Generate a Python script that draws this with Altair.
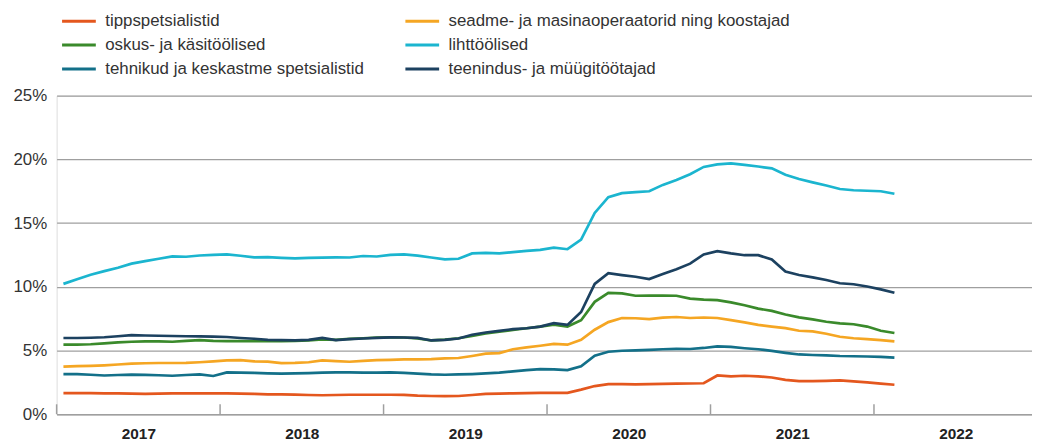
import altair as alt
import pandas as pd

# ---- data (registered unemployment share by occupation group, %) ----
months = pd.period_range("2017-01", "2022-02", freq="M").strftime("%Y-%m").tolist()
years = [2017, 2018, 2019, 2020, 2021, 2022]

series_names = [
    "tippspetsialistid",
    "seadme- ja masinaoperaatorid ning koostajad",
    "oskus- ja käsitöölised",
    "lihttöölised",
    "tehnikud ja keskastme spetsialistid",
    "teenindus- ja müügitöötajad",
]
colors = ["#e4571e", "#f5a623", "#3a8a2b", "#1bb5cf", "#137089", "#1c4160"]

tipp = [1.65, 1.65, 1.65, 1.63, 1.64, 1.62, 1.59, 1.62, 1.63, 1.64, 1.64, 1.64,
        1.63, 1.61, 1.59, 1.56, 1.55, 1.54, 1.51, 1.49, 1.51, 1.53, 1.53, 1.53,
        1.53, 1.52, 1.46, 1.43, 1.42, 1.43, 1.51, 1.59, 1.62, 1.64, 1.66, 1.68,
        1.68, 1.68, 1.93, 2.21, 2.36, 2.36, 2.34, 2.36, 2.38, 2.40, 2.41, 2.43,
        3.04, 2.97, 3.02, 2.97, 2.88, 2.70, 2.60, 2.60, 2.62, 2.66, 2.58, 2.50,
        2.40, 2.31]
seadme = [3.73, 3.77, 3.80, 3.84, 3.90, 3.97, 4.00, 4.02, 4.02, 4.03, 4.08, 4.15,
          4.23, 4.25, 4.15, 4.13, 4.01, 4.03, 4.08, 4.23, 4.17, 4.12, 4.19, 4.25,
          4.27, 4.30, 4.30, 4.32, 4.38, 4.41, 4.57, 4.75, 4.80, 5.10, 5.24, 5.37,
          5.52, 5.46, 5.84, 6.63, 7.23, 7.55, 7.53, 7.47, 7.58, 7.63, 7.55, 7.59,
          7.55, 7.39, 7.21, 7.01, 6.88, 6.76, 6.55, 6.50, 6.32, 6.08, 5.96, 5.90,
          5.81, 5.72]
oskus = [5.46, 5.46, 5.49, 5.56, 5.64, 5.69, 5.72, 5.72, 5.69, 5.76, 5.82, 5.76,
         5.74, 5.74, 5.74, 5.74, 5.74, 5.76, 5.79, 5.87, 5.84, 5.92, 5.96, 6.02,
         6.04, 6.02, 5.94, 5.79, 5.86, 5.96, 6.14, 6.34, 6.48, 6.61, 6.75, 6.88,
         7.03, 6.88, 7.38, 8.82, 9.53, 9.48, 9.30, 9.32, 9.31, 9.30, 9.07, 8.99,
         8.95, 8.78, 8.55, 8.29, 8.11, 7.83, 7.60, 7.44, 7.26, 7.13, 7.06, 6.88,
         6.55, 6.37]
lihtt = [10.23, 10.60, 10.95, 11.23, 11.50, 11.82, 12.02, 12.20, 12.39, 12.36, 12.46, 12.51,
         12.54, 12.44, 12.31, 12.33, 12.27, 12.23, 12.27, 12.29, 12.31, 12.30, 12.42, 12.38,
         12.50, 12.55, 12.45, 12.30, 12.15, 12.20, 12.62, 12.66, 12.62, 12.72, 12.82, 12.90,
         13.08, 12.95, 13.70, 15.80, 17.04, 17.35, 17.43, 17.50, 18.00, 18.38, 18.84, 19.41,
         19.61, 19.69, 19.57, 19.44, 19.30, 18.80, 18.46, 18.20, 17.95, 17.68, 17.58, 17.54,
         17.50, 17.30]
tehnikud = [3.15, 3.14, 3.10, 3.04, 3.08, 3.11, 3.09, 3.06, 3.02, 3.08, 3.12, 3.00,
            3.28, 3.26, 3.24, 3.20, 3.18, 3.20, 3.23, 3.26, 3.28, 3.28, 3.26, 3.27,
            3.28, 3.24, 3.18, 3.12, 3.10, 3.12, 3.15, 3.20, 3.26, 3.36, 3.46, 3.54,
            3.52, 3.46, 3.76, 4.60, 4.90, 4.98, 5.01, 5.05, 5.10, 5.13, 5.12, 5.20,
            5.33, 5.28, 5.18, 5.10, 4.97, 4.82, 4.69, 4.65, 4.62, 4.57, 4.55, 4.53,
            4.50, 4.44]
teenindus = [5.98, 5.98, 6.00, 6.04, 6.12, 6.21, 6.18, 6.16, 6.14, 6.12, 6.11, 6.09,
             6.06, 5.98, 5.92, 5.84, 5.81, 5.79, 5.84, 5.99, 5.82, 5.89, 5.94, 5.99,
             6.03, 6.02, 5.99, 5.79, 5.84, 5.94, 6.24, 6.41, 6.54, 6.68, 6.75, 6.88,
             7.15, 7.01, 8.02, 10.23, 11.07, 10.92, 10.79, 10.61, 11.00, 11.38, 11.82, 12.54,
             12.80, 12.62, 12.48, 12.48, 12.15, 11.20, 10.93, 10.74, 10.53, 10.28, 10.20, 10.02,
             9.80, 9.53]

y_ticks = [0, 5, 10, 15, 20, 25]

# ---- build long table ----
rows = []
for name, vals in zip(series_names, [tipp, seadme, oskus, lihtt, tehnikud, teenindus]):
    for m, v in zip(months, vals):
        yy, mm = int(m[:4]), int(m[5:])
        rows.append({"series": name, "month": m,
                     "t": (yy - years[0]) * 12 + (mm - 1) + 0.5, "value": v})
df = pd.DataFrame(rows)

year_starts = pd.DataFrame({"t": [(y - years[0]) * 12 for y in years]})
year_mids = [(y - years[0]) * 12 + 6 for y in years]

W, H = 983, 321
FONT = "Liberation Sans"
GRID = "#9f9f9f"

x_scale = alt.Scale(domain=[0, 71.6], nice=False, zero=False)
y_scale = alt.Scale(domain=[0, 25], nice=False)

lines = alt.Chart(df).mark_line(strokeWidth=2.7).encode(
    x=alt.X("t:Q", scale=x_scale,
            axis=alt.Axis(values=year_mids,
                          labelExpr="'' + (%d + (datum.value - 6) / 12)" % years[0],
                          ticks=False, grid=False, domain=True,
                          domainColor=GRID, domainWidth=1.5,
                          labelFont=FONT, labelFontSize=15.5, labelFontWeight="bold",
                          labelColor="#222222", labelPadding=24,
                          labelBaseline="alphabetic", title=None)),
    y=alt.Y("value:Q", scale=y_scale,
            axis=alt.Axis(values=y_ticks, labelExpr="datum.value + '%'",
                          ticks=False, domain=False, grid=True,
                          gridColor=GRID, gridWidth=1.3,
                          labelFont=FONT, labelFontSize=17, labelColor="#333333",
                          labelPadding=10, title=None)),
    color=alt.Color("series:N",
                    scale=alt.Scale(domain=series_names, range=colors),
                    legend=alt.Legend(orient="none", legendX=4, legendY=-85,
                                      columns=2, direction="horizontal",
                                      symbolType="M-1,0H3", symbolSize=289,
                                      symbolStrokeWidth=3, labelFont=FONT,
                                      labelFontSize=17, labelColor="#333333",
                                      labelOffset=25, labelLimit=500,
                                      columnPadding=35, rowPadding=6,
                                      padding=0, title=None)),
    detail="series:N",
)

ticks = alt.Chart(year_starts).mark_rule(color=GRID, strokeWidth=1.5).encode(
    x=alt.X("t:Q", scale=x_scale),
    y=alt.value(H - 10),
    y2=alt.value(H),
)

chart = alt.layer(lines, ticks).properties(
    width=W, height=H,
    padding={"left": 49, "top": 86.7, "right": 0, "bottom": 25},
    autosize=alt.AutoSizeParams(type="none"),
).configure_view(stroke=None).configure(background="white")

chart.save("out.html", embed_options={"renderer": "svg", "actions": False})
